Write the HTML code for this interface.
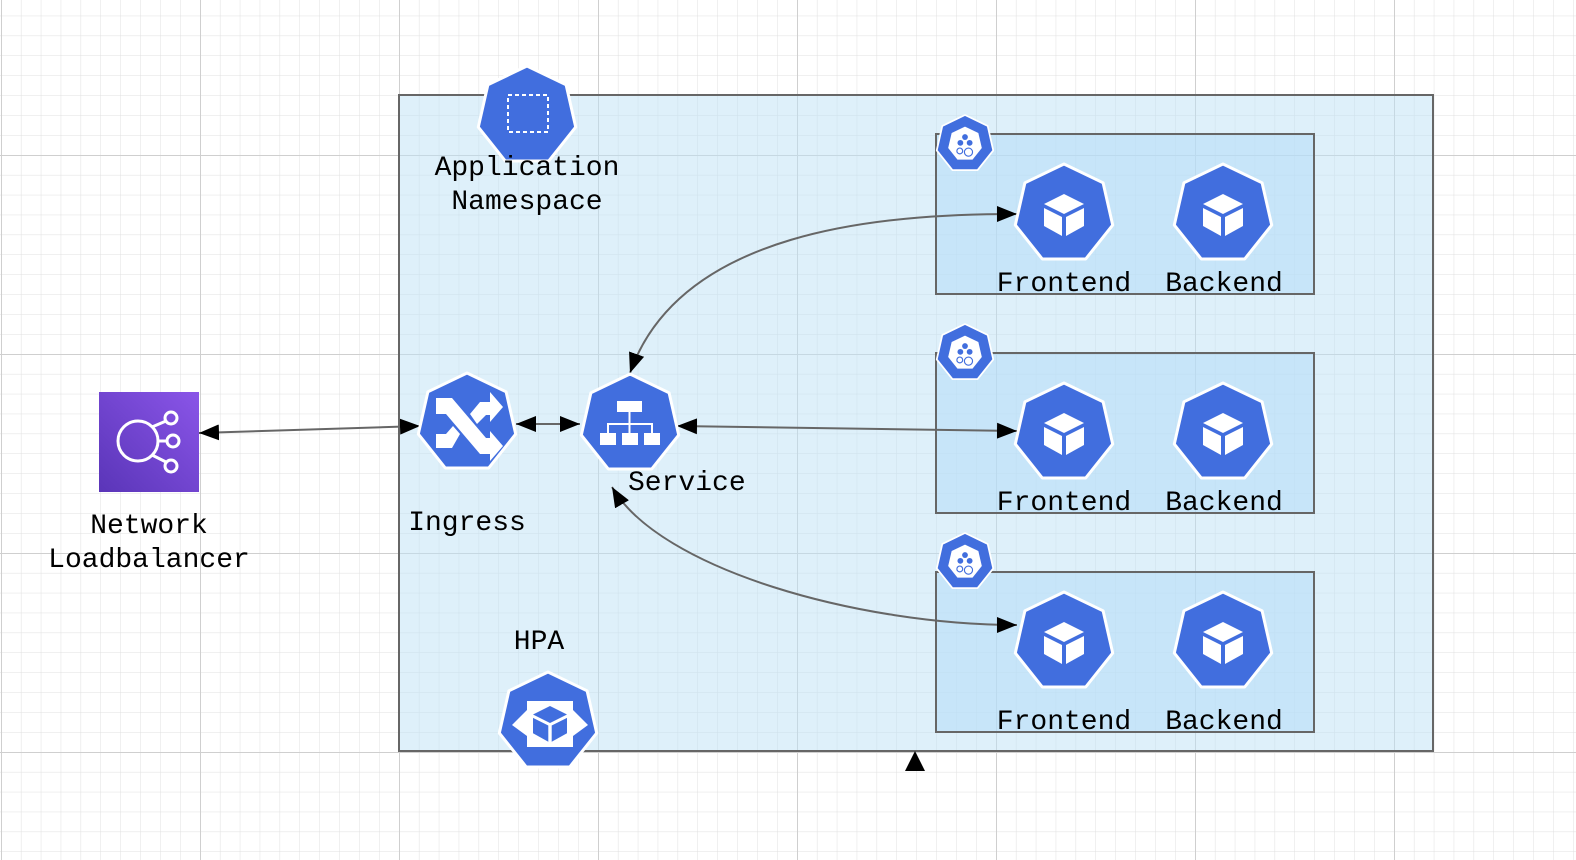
<!DOCTYPE html>
<html><head><meta charset="utf-8"><style>
html,body{margin:0;padding:0;background:#fff;}
svg{display:block;}
text{font-family:"Liberation Mono","DejaVu Sans Mono",monospace;font-size:28px;fill:#000;}
</style></head><body>
<svg width="1576" height="860" viewBox="0 0 1576 860" xmlns="http://www.w3.org/2000/svg">
<defs>
<pattern id="minor" x="1" y="-44" width="19.9" height="19.9" patternUnits="userSpaceOnUse">
<path d="M0 0H19.9M0 0V19.9" stroke="#e0e0e0" stroke-width="1" fill="none"/>
</pattern>
<pattern id="major" x="1" y="-44" width="199" height="199" patternUnits="userSpaceOnUse">
<path d="M0 0H199M0 0V199" stroke="#cfcfcf" stroke-width="2" fill="none"/>
</pattern>
<marker id="ar" viewBox="0 0 20 16" refX="20" refY="8" markerWidth="20" markerHeight="16" markerUnits="userSpaceOnUse" orient="auto-start-reverse">
<path d="M0 0L20 8L0 16Z" fill="#000"/>
</marker>
<linearGradient id="nlb" x1="1" y1="0" x2="0" y2="1">
<stop offset="0" stop-color="#8a55e8"/><stop offset="1" stop-color="#5a35b8"/>
</linearGradient>
<g id="hep">
<polygon points="0,-50 39.1,-31.2 48.7,11.1 21.7,45 -21.7,45 -48.7,11.1 -39.1,-31.2" fill="#416ede" stroke="#fff" stroke-width="3" stroke-linejoin="round"/>
</g>
<g id="cube">
<polygon points="0,-20 20,-10 0,0 -20,-10" fill="#fff"/>
<polygon points="-20,-6 -2,3 -2,22 -20,12" fill="#fff"/>
<polygon points="20,-6 2,3 2,22 20,12" fill="#fff"/>
</g>
</defs>
<rect width="1576" height="860" fill="#fff"/>
<rect width="1576" height="860" fill="url(#minor)"/>
<rect width="1576" height="860" fill="url(#major)"/>

<rect x="399" y="95" width="1034" height="656" fill="rgba(190,226,246,0.5)" stroke="#666" stroke-width="2"/>
<rect x="936" y="134" width="378" height="160" fill="rgba(180,220,248,0.55)" stroke="#666" stroke-width="2"/>
<rect x="936" y="353" width="378" height="160" fill="rgba(180,220,248,0.55)" stroke="#666" stroke-width="2"/>
<rect x="936" y="572" width="378" height="160" fill="rgba(180,220,248,0.55)" stroke="#666" stroke-width="2"/>

<g stroke="#666" stroke-width="2" fill="none">
<path d="M199 433 L420 426" marker-start="url(#ar)" marker-end="url(#ar)"/>
<path d="M516 424 L580 424" marker-start="url(#ar)" marker-end="url(#ar)"/>
<path d="M677 426 L1017 431" marker-start="url(#ar)" marker-end="url(#ar)"/>
<path d="M630 373 C 680 230, 880 214, 1017 214" marker-start="url(#ar)" marker-end="url(#ar)"/>
<path d="M612 487 C 660 570, 860 625, 1017 625" marker-start="url(#ar)" marker-end="url(#ar)"/>
</g>
<path d="M905 771 L915 751 L925 771Z" fill="#000"/>

<rect x="99" y="392" width="100" height="100" fill="url(#nlb)"/>
<g stroke="#fff" stroke-width="3" fill="none">
<circle cx="138" cy="441" r="20"/>
<circle cx="171" cy="418" r="6"/><circle cx="173" cy="441" r="6"/><circle cx="171" cy="466" r="6"/>
<path d="M152 427 L166 421 M158 441 L167 441 M152 455 L166 462"/>
</g>

<use href="#hep" x="527" y="116"/>
<rect x="508" y="95" width="40" height="37" fill="none" stroke="#fff" stroke-width="2" stroke-dasharray="4,3"/>

<use href="#hep" x="467" y="423"/>
<g fill="#fff">
<path d="M436 398 H452 L486 438 H490 V431 L503 446 L490 461 V454 H480 L446 414 H436Z"/>
<path d="M436 434 H446 L453 426 L460 434 L452 448 H436Z"/>
<path d="M470 414 L480 402 H490 V392 L503 407 L490 422 V415 H486 L477 424Z"/>
</g>

<use href="#hep" x="630" y="424"/>
<g fill="#fff">
<rect x="617" y="401" width="25" height="11"/>
<rect x="600" y="433" width="16" height="12"/><rect x="622" y="433" width="16" height="12"/><rect x="644" y="433" width="16" height="12"/>
</g>
<path d="M629.5 412 V433 M608 433 V424 H652 V433" stroke="#fff" stroke-width="2" fill="none"/>

<use href="#hep" x="548" y="722"/>
<rect x="527" y="701" width="46" height="46" fill="#fff"/>
<path d="M527 710 L512 725 L527 736Z M573 710 L588 725 L573 736Z" fill="#fff"/>
<g transform="translate(550,723) scale(0.85)">
<polygon points="0,-20 20,-10 0,0 -20,-10" fill="#416ede"/>
<polygon points="-20,-6 -2,3 -2,22 -20,12" fill="#416ede"/>
<polygon points="20,-6 2,3 2,22 20,12" fill="#416ede"/>
</g>

<g>
<use href="#hep" x="1064" y="214"/><use href="#cube" x="1064" y="214"/>
<use href="#hep" x="1223" y="214"/><use href="#cube" x="1223" y="214"/>
<use href="#hep" x="1064" y="433"/><use href="#cube" x="1064" y="433"/>
<use href="#hep" x="1223" y="433"/><use href="#cube" x="1223" y="433"/>
<use href="#hep" x="1064" y="642"/><use href="#cube" x="1064" y="642"/>
<use href="#hep" x="1223" y="642"/><use href="#cube" x="1223" y="642"/>
</g>

<g>
<g transform="translate(965,144) scale(0.58)"><use href="#hep"/><polygon points="0,-30 23,-19 29,7 13,27 -13,27 -29,7 -23,-19" fill="#fff"/><circle cx="0" cy="-12" r="5" fill="#416ede"/><circle cx="-8" cy="-2" r="5" fill="#416ede"/><circle cx="8" cy="-2" r="5" fill="#416ede"/><circle cx="-9" cy="12" r="5" fill="none" stroke="#416ede" stroke-width="2"/><circle cx="6" cy="14" r="7" fill="none" stroke="#416ede" stroke-width="2"/></g>
<g transform="translate(965,353) scale(0.58)"><use href="#hep"/><polygon points="0,-30 23,-19 29,7 13,27 -13,27 -29,7 -23,-19" fill="#fff"/><circle cx="0" cy="-12" r="5" fill="#416ede"/><circle cx="-8" cy="-2" r="5" fill="#416ede"/><circle cx="8" cy="-2" r="5" fill="#416ede"/><circle cx="-9" cy="12" r="5" fill="none" stroke="#416ede" stroke-width="2"/><circle cx="6" cy="14" r="7" fill="none" stroke="#416ede" stroke-width="2"/></g>
<g transform="translate(965,562) scale(0.58)"><use href="#hep"/><polygon points="0,-30 23,-19 29,7 13,27 -13,27 -29,7 -23,-19" fill="#fff"/><circle cx="0" cy="-12" r="5" fill="#416ede"/><circle cx="-8" cy="-2" r="5" fill="#416ede"/><circle cx="8" cy="-2" r="5" fill="#416ede"/><circle cx="-9" cy="12" r="5" fill="none" stroke="#416ede" stroke-width="2"/><circle cx="6" cy="14" r="7" fill="none" stroke="#416ede" stroke-width="2"/></g>
</g>

<g text-anchor="middle">
<text x="527" y="175">Application</text>
<text x="527" y="209">Namespace</text>
<text x="1064" y="291">Frontend</text><text x="1224" y="291">Backend</text>
<text x="1064" y="510">Frontend</text><text x="1224" y="510">Backend</text>
<text x="1064" y="729">Frontend</text><text x="1224" y="729">Backend</text>
<text x="467" y="530">Ingress</text>
<text x="149" y="533">Network</text>
<text x="149" y="567">Loadbalancer</text>
<text x="539" y="649">HPA</text>
</g>
<text x="628" y="490">Service</text>
</svg>
</body></html>
